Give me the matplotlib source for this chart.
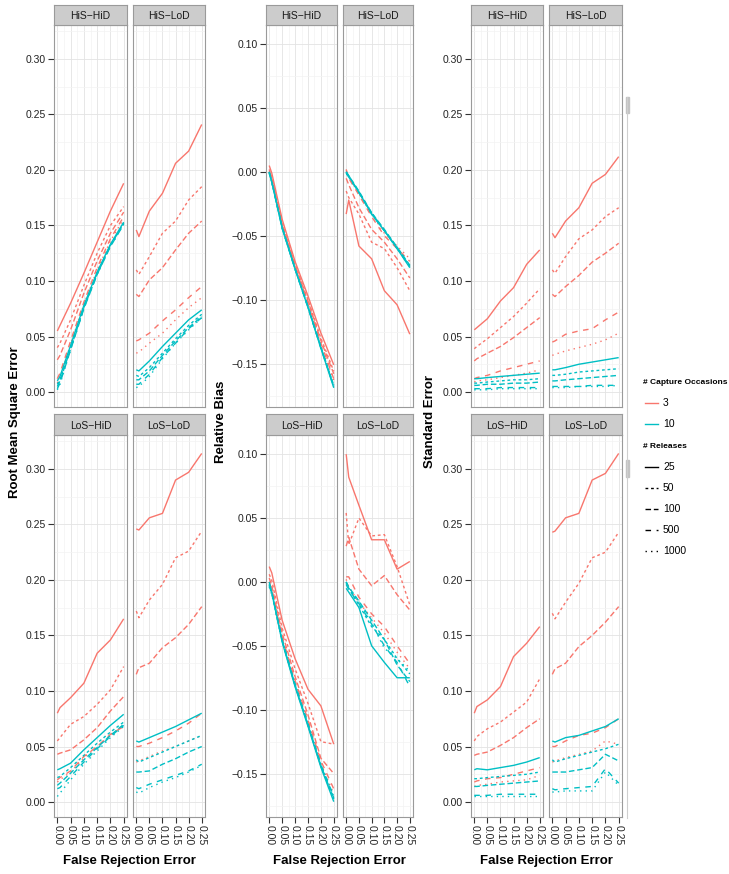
import matplotlib
matplotlib.use("Agg")
import matplotlib.pyplot as plt
from matplotlib.lines import Line2D
from matplotlib.patches import Rectangle
from matplotlib.ticker import FixedLocator, FuncFormatter

plt.rcParams["font.family"] = ["Liberation Sans", "DejaVu Sans"]
plt.rcParams["lines.scale_dashes"] = False

# ---- data -------------------------------------------------------------
false_rejection = [0.00, 0.01, 0.05, 0.10, 0.15, 0.20, 0.25]
facets = ["HiS\u2212HiD", "HiS\u2212LoD", "LoS\u2212HiD", "LoS\u2212LoD"]
occasions = ["3", "10"]
releases = ["25", "50", "100", "500", "1000"]

# rows = releases 25, 50, 100, 500, 1000
rmse_hishid_3 = [[0.055, 0.060, 0.080, 0.107, 0.135, 0.163, 0.188],
                 [0.040, 0.044, 0.065, 0.096, 0.125, 0.150, 0.167],
                 [0.029, 0.033, 0.056, 0.089, 0.118, 0.143, 0.162],
                 [0.012, 0.017, 0.046, 0.081, 0.112, 0.138, 0.158],
                 [0.008, 0.013, 0.043, 0.079, 0.110, 0.136, 0.156]]
rmse_hishid_10 = [[0.010, 0.014, 0.042, 0.078, 0.108, 0.133, 0.153],
                  [0.007, 0.011, 0.040, 0.076, 0.107, 0.132, 0.152],
                  [0.005, 0.010, 0.039, 0.076, 0.106, 0.132, 0.152],
                  [0.003, 0.008, 0.038, 0.075, 0.106, 0.131, 0.151],
                  [0.002, 0.007, 0.038, 0.075, 0.106, 0.131, 0.151]]
rmse_hislod_3 = [[0.146, 0.140, 0.163, 0.179, 0.206, 0.217, 0.241],
                 [0.110, 0.106, 0.122, 0.143, 0.154, 0.173, 0.185],
                 [0.088, 0.086, 0.101, 0.112, 0.128, 0.143, 0.154],
                 [0.046, 0.047, 0.053, 0.064, 0.074, 0.085, 0.095],
                 [0.035, 0.036, 0.044, 0.053, 0.065, 0.076, 0.085]]
rmse_hislod_10 = [[0.020, 0.019, 0.028, 0.041, 0.053, 0.065, 0.074],
                  [0.015, 0.014, 0.022, 0.035, 0.048, 0.060, 0.070],
                  [0.011, 0.011, 0.019, 0.033, 0.046, 0.058, 0.068],
                  [0.007, 0.007, 0.016, 0.031, 0.044, 0.057, 0.067],
                  [0.004, 0.005, 0.014, 0.030, 0.044, 0.056, 0.067]]
rmse_loshid_3 = [[0.080, 0.085, 0.094, 0.107, 0.134, 0.146, 0.165],
                 [0.055, 0.058, 0.070, 0.077, 0.088, 0.101, 0.122],
                 [0.043, 0.044, 0.047, 0.056, 0.067, 0.082, 0.095],
                 [0.020, 0.022, 0.028, 0.041, 0.050, 0.061, 0.068],
                 [0.018, 0.020, 0.027, 0.040, 0.050, 0.060, 0.069]]
rmse_loshid_10 = [[0.029, 0.030, 0.035, 0.047, 0.058, 0.069, 0.079],
                  [0.022, 0.023, 0.031, 0.042, 0.053, 0.063, 0.072],
                  [0.015, 0.017, 0.026, 0.038, 0.049, 0.060, 0.070],
                  [0.012, 0.013, 0.023, 0.036, 0.048, 0.059, 0.069],
                  [0.005, 0.008, 0.020, 0.034, 0.046, 0.058, 0.068]]
rmse_loslod_3 = [[0.246, 0.245, 0.256, 0.260, 0.290, 0.297, 0.314],
                 [0.172, 0.166, 0.182, 0.196, 0.220, 0.226, 0.244],
                 [0.115, 0.121, 0.125, 0.139, 0.148, 0.160, 0.176],
                 [0.050, 0.050, 0.053, 0.058, 0.064, 0.071, 0.080],
                 [0.036, 0.037, 0.041, 0.046, 0.050, 0.055, 0.060]]
rmse_loslod_10 = [[0.055, 0.054, 0.058, 0.063, 0.068, 0.074, 0.080],
                  [0.038, 0.036, 0.040, 0.045, 0.050, 0.055, 0.060],
                  [0.027, 0.027, 0.028, 0.034, 0.039, 0.045, 0.050],
                  [0.013, 0.012, 0.016, 0.020, 0.024, 0.028, 0.034],
                  [0.009, 0.008, 0.013, 0.018, 0.022, 0.027, 0.033]]

bias_hishid_3 = [[0.005, -0.001, -0.037, -0.070, -0.097, -0.126, -0.151],
                 [0.002, -0.004, -0.040, -0.072, -0.100, -0.130, -0.156],
                 [0.001, -0.005, -0.041, -0.073, -0.101, -0.132, -0.158],
                 [0.000, -0.006, -0.042, -0.074, -0.103, -0.134, -0.162],
                 [0.000, -0.007, -0.042, -0.074, -0.103, -0.135, -0.163]]
bias_hishid_10 = [[0.000, -0.008, -0.044, -0.076, -0.106, -0.138, -0.169],
                  [-0.001, -0.008, -0.044, -0.076, -0.106, -0.137, -0.167],
                  [0.000, -0.008, -0.043, -0.076, -0.105, -0.137, -0.168],
                  [-0.001, -0.008, -0.044, -0.076, -0.106, -0.138, -0.168],
                  [0.000, -0.007, -0.043, -0.075, -0.105, -0.137, -0.167]]
bias_hislod_3 = [[-0.033, -0.022, -0.058, -0.068, -0.093, -0.104, -0.127],
                 [-0.015, -0.020, -0.033, -0.055, -0.060, -0.075, -0.093],
                 [-0.005, -0.010, -0.028, -0.045, -0.055, -0.068, -0.083],
                 [0.002, -0.005, -0.018, -0.035, -0.050, -0.060, -0.070],
                 [0.001, -0.004, -0.017, -0.033, -0.048, -0.058, -0.068]]
bias_hislod_10 = [[0.000, -0.003, -0.016, -0.033, -0.046, -0.060, -0.075],
                  [-0.001, -0.004, -0.016, -0.032, -0.046, -0.059, -0.074],
                  [0.000, -0.003, -0.015, -0.032, -0.045, -0.059, -0.073],
                  [-0.001, -0.004, -0.016, -0.033, -0.046, -0.060, -0.074],
                  [0.000, -0.003, -0.016, -0.032, -0.046, -0.059, -0.074]]
bias_loshid_3 = [[0.012, 0.007, -0.030, -0.060, -0.084, -0.097, -0.127],
                 [0.006, 0.001, -0.036, -0.068, -0.095, -0.125, -0.127],
                 [0.003, -0.003, -0.040, -0.074, -0.104, -0.138, -0.150],
                 [0.000, -0.006, -0.043, -0.077, -0.108, -0.140, -0.162],
                 [0.000, -0.006, -0.044, -0.078, -0.110, -0.142, -0.166]]
bias_loshid_10 = [[0.000, -0.008, -0.047, -0.082, -0.113, -0.145, -0.172],
                  [-0.002, -0.009, -0.046, -0.081, -0.112, -0.144, -0.170],
                  [-0.003, -0.009, -0.046, -0.081, -0.112, -0.144, -0.169],
                  [-0.002, -0.008, -0.045, -0.080, -0.111, -0.143, -0.168],
                  [-0.004, -0.010, -0.046, -0.080, -0.111, -0.143, -0.168]]
bias_loslod_3 = [[0.100, 0.082, 0.060, 0.033, 0.033, 0.010, 0.016],
                 [0.054, 0.029, 0.050, 0.036, 0.037, 0.012, -0.018],
                 [0.028, 0.035, 0.010, -0.003, 0.005, -0.010, -0.022],
                 [0.004, 0.004, -0.012, -0.025, -0.035, -0.050, -0.064],
                 [0.002, -0.004, -0.016, -0.028, -0.040, -0.055, -0.068]]
bias_loslod_10 = [[-0.005, -0.008, -0.020, -0.050, -0.063, -0.075, -0.075],
                  [0.000, -0.005, -0.018, -0.035, -0.045, -0.060, -0.072],
                  [0.000, -0.004, -0.015, -0.030, -0.045, -0.065, -0.078],
                  [-0.002, -0.006, -0.017, -0.033, -0.050, -0.063, -0.082],
                  [-0.001, -0.005, -0.016, -0.032, -0.052, -0.060, -0.070]]

se_hishid_3 = [[0.056, 0.058, 0.066, 0.082, 0.094, 0.115, 0.128],
               [0.039, 0.041, 0.048, 0.058, 0.068, 0.080, 0.093],
               [0.028, 0.030, 0.035, 0.041, 0.049, 0.058, 0.067],
               [0.012, 0.013, 0.015, 0.019, 0.022, 0.025, 0.028],
               [0.009, 0.010, 0.011, 0.013, 0.015, 0.017, 0.020]]
se_hishid_10 = [[0.012, 0.012, 0.013, 0.014, 0.015, 0.016, 0.017],
                [0.008, 0.008, 0.009, 0.010, 0.011, 0.011, 0.012],
                [0.006, 0.006, 0.007, 0.007, 0.008, 0.008, 0.009],
                [0.003, 0.003, 0.003, 0.004, 0.004, 0.004, 0.004],
                [0.002, 0.002, 0.002, 0.003, 0.003, 0.003, 0.003]]
se_hislod_3 = [[0.143, 0.139, 0.154, 0.166, 0.188, 0.196, 0.212],
               [0.110, 0.107, 0.122, 0.138, 0.146, 0.158, 0.166],
               [0.088, 0.086, 0.095, 0.105, 0.117, 0.125, 0.134],
               [0.045, 0.046, 0.052, 0.055, 0.057, 0.065, 0.072],
               [0.033, 0.034, 0.037, 0.040, 0.043, 0.047, 0.053]]
se_hislod_10 = [[0.020, 0.020, 0.022, 0.025, 0.027, 0.029, 0.031],
                [0.015, 0.015, 0.016, 0.018, 0.019, 0.020, 0.021],
                [0.010, 0.010, 0.011, 0.012, 0.013, 0.014, 0.015],
                [0.005, 0.005, 0.005, 0.005, 0.006, 0.006, 0.006],
                [0.004, 0.004, 0.004, 0.005, 0.005, 0.005, 0.006]]
se_loshid_3 = [[0.080, 0.086, 0.092, 0.104, 0.131, 0.143, 0.158],
               [0.055, 0.059, 0.066, 0.072, 0.081, 0.090, 0.111],
               [0.042, 0.043, 0.045, 0.051, 0.058, 0.067, 0.075],
               [0.018, 0.019, 0.021, 0.022, 0.025, 0.028, 0.031],
               [0.014, 0.015, 0.016, 0.018, 0.019, 0.020, 0.024]]
se_loshid_10 = [[0.029, 0.030, 0.029, 0.031, 0.033, 0.036, 0.040],
                [0.021, 0.021, 0.022, 0.023, 0.024, 0.025, 0.027],
                [0.014, 0.014, 0.015, 0.016, 0.017, 0.018, 0.019],
                [0.006, 0.006, 0.006, 0.007, 0.007, 0.007, 0.007],
                [0.005, 0.005, 0.005, 0.005, 0.005, 0.005, 0.005]]
se_loslod_3 = [[0.243, 0.244, 0.256, 0.260, 0.290, 0.296, 0.314],
               [0.170, 0.165, 0.180, 0.197, 0.220, 0.225, 0.243],
               [0.115, 0.120, 0.125, 0.140, 0.150, 0.162, 0.176],
               [0.050, 0.050, 0.055, 0.060, 0.062, 0.067, 0.075],
               [0.036, 0.037, 0.040, 0.043, 0.046, 0.055, 0.052]]
se_loslod_10 = [[0.055, 0.054, 0.058, 0.060, 0.064, 0.068, 0.075],
                [0.038, 0.036, 0.039, 0.042, 0.045, 0.048, 0.052],
                [0.027, 0.027, 0.027, 0.029, 0.031, 0.043, 0.037],
                [0.012, 0.011, 0.012, 0.013, 0.014, 0.030, 0.017],
                [0.009, 0.009, 0.010, 0.010, 0.010, 0.027, 0.015]]

rmse = [[rmse_hishid_3, rmse_hishid_10], [rmse_hislod_3, rmse_hislod_10],
        [rmse_loshid_3, rmse_loshid_10], [rmse_loslod_3, rmse_loslod_10]]
bias = [[bias_hishid_3, bias_hishid_10], [bias_hislod_3, bias_hislod_10],
        [bias_loshid_3, bias_loshid_10], [bias_loslod_3, bias_loslod_10]]
se = [[se_hishid_3, se_hishid_10], [se_hislod_3, se_hislod_10],
      [se_loshid_3, se_loshid_10], [se_loslod_3, se_loslod_10]]

# ---- style ------------------------------------------------------------
occ_colors = ["#F8766D", "#00BFC4"]
rel_dashes = ["-", (0, (2, 2)), (0, (4, 2)), (0, (4, 4)), (0, (1, 3))]
W, H = 729, 874
LW = 1.0

def box(x0, x1, y0, y1):
    # pixel box (top-left origin) -> figure fraction
    return [x0 / W, 1 - y1 / H, (x1 - x0) / W, (y1 - y0) / H]

fmt = FuncFormatter(lambda v, _: ("%.2f" % v).replace("-", "\u2212"))

cols_px = [[(54, 127), (133, 205)], [(266, 337), (343, 413)], [(471, 543), (549, 622)]]
rows_px = [((5, 25), (25, 407)), ((414, 435), (435, 817))]

groups = [
    (rmse, "Root Mean Square Error", (-0.0135, 0.3306), [0, 0.05, 0.10, 0.15, 0.20, 0.25, 0.30], 15),
    (bias, "Relative Bias", (-0.184, 0.115), [-0.15, -0.10, -0.05, 0, 0.05, 0.10], 221),
    (se, "Standard Error", (-0.0135, 0.3306), [0, 0.05, 0.10, 0.15, 0.20, 0.25, 0.30], 430),
]

fig = plt.figure(figsize=(W / 100, H / 100), dpi=100)

for g, (data, ylab, ylim, yt, ylab_x) in enumerate(groups):
    ymin_t = [yt[0] - 0.025] + [v + 0.025 for v in yt]
    for f, name in enumerate(facets):
        r, c = divmod(f, 2)
        (sx0, sx1) = cols_px[g][c]
        (st, pt) = rows_px[r]
        ax = fig.add_axes(box(sx0, sx1, pt[0], pt[1]))
        for o in range(len(occasions)):
            for k in range(len(releases)):
                ax.plot(false_rejection, data[f][o][k], color=occ_colors[o],
                        linestyle=rel_dashes[k], lw=LW, solid_capstyle="butt",
                        dash_capstyle="butt")
        ax.set_xlim(-0.0125, 0.2625)
        ax.set_ylim(*ylim)
        ax.xaxis.set_major_locator(FixedLocator([0, 0.05, 0.10, 0.15, 0.20, 0.25]))
        ax.xaxis.set_minor_locator(FixedLocator([0.025, 0.075, 0.125, 0.175, 0.225]))
        ax.yaxis.set_major_locator(FixedLocator(yt))
        ax.yaxis.set_minor_locator(FixedLocator(ymin_t))
        ax.xaxis.set_major_formatter(fmt)
        ax.yaxis.set_major_formatter(fmt)
        ax.grid(True, which="major", color="#e3e3e3", lw=0.6)
        ax.grid(True, which="minor", color="#f3f3f3", lw=0.5)
        ax.set_axisbelow(True)
        for sp in ax.spines.values():
            sp.set_color("#9a9a9a")
            sp.set_linewidth(0.8)
        ax.tick_params(which="minor", length=0)
        ax.tick_params(which="major", length=4, width=0.8, color="#333333",
                       labelsize=7.5, labelcolor="#222222", pad=2,
                       left=(c == 0), labelleft=(c == 0),
                       bottom=(r == 1), labelbottom=(r == 1))
        if r == 1:
            for lab in ax.get_xticklabels():
                lab.set_rotation(270)
        # facet strip
        sax = fig.add_axes(box(sx0, sx1, st[0], st[1]))
        sax.set_facecolor("#cccccc")
        sax.set_xticks([])
        sax.set_yticks([])
        for sp in sax.spines.values():
            sp.set_color("#9a9a9a")
            sp.set_linewidth(0.8)
        sax.text(0.5, 0.45, name, transform=sax.transAxes, ha="center", va="center",
                 fontsize=7.5, color="#1a1a1a")
    fig.text(ylab_x / W, 1 - 422 / H, ylab, rotation=90, ha="center", va="center",
             fontsize=9.5, fontweight="bold")
    xc = (cols_px[g][0][0] + cols_px[g][1][1]) / 2
    fig.text(xc / W, 1 - 861 / H, "False Rejection Error", ha="center", va="center",
             fontsize=9.5, fontweight="bold")

# ---- legends ----------------------------------------------------------
def legend_block(title, y_title, labels, colors, styles):
    fig.text(643 / W, 1 - y_title / H, title, ha="left", va="center",
             fontsize=6, fontweight="bold")
    for i, lab in enumerate(labels):
        yy = 1 - (y_title + 20 + 21 * i) / H
        fig.add_artist(Line2D([645 / W, 658 / W], [yy, yy], color=colors[i],
                              linestyle=styles[i], lw=LW, transform=fig.transFigure))
        fig.text(663 / W, yy, lab, ha="left", va="center", fontsize=7.5)

legend_block("# Capture Occasions", 383, occasions, occ_colors, ["-", "-"])
legend_block("# Releases", 447, releases, ["black"] * 5, rel_dashes)

# scrollbar-like artefact to the right of the last panels
fig.add_artist(Line2D([627 / W, 627 / W], [1 - 97 / H, 1 - 818 / H], color="#cfcfcf",
                      lw=0.8, transform=fig.transFigure))
for (y0, y1) in [(97, 113), (460, 477)]:
    fig.add_artist(Rectangle((625.5 / W, 1 - y1 / H), 3 / W, (y1 - y0) / H,
                             color="#c4c4c4", transform=fig.transFigure))

fig.savefig("out.png", dpi=100)
